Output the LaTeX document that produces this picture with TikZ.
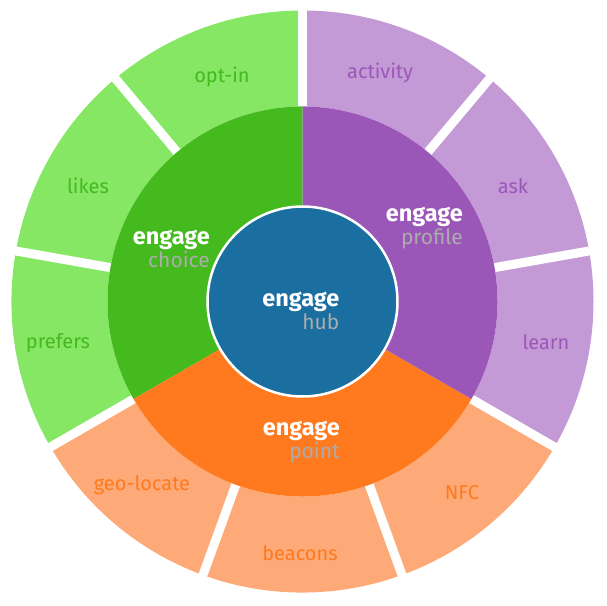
\documentclass[tikz,border=0pt]{standalone}
\usepackage{fontspec}
\setmainfont{Fira Sans}
\usepackage{tikz}

\definecolor{hubblue}{RGB}{26,111,160}
\definecolor{choicegreen}{RGB}{68,186,30}
\definecolor{choicelight}{RGB}{134,231,100}
\definecolor{profilepurple}{RGB}{155,87,184}
\definecolor{profilelight}{RGB}{195,154,214}
\definecolor{pointorange}{RGB}{255,122,30}
\definecolor{pointlight}{RGB}{253,170,120}
\definecolor{subgray}{RGB}{172,172,172}

\newcommand{\engagetxt}{{\fontsize{23.5}{23}\selectfont\bfseries\textcolor{white}{engage}}}

\tikzset{
  leaflbl/.style={font=\fontsize{20}{22}\selectfont, inner sep=0pt},
  ringlbl/.style={align=right, anchor=east, inner sep=0pt, font=\fontsize{21}{23}\selectfont},
}

\begin{document}
\begin{tikzpicture}[x=1pt,y=1pt]
\useasboundingbox (-302.5,-303.5) rectangle (304.5,301.5);
% outer ring
\fill[choicelight] (90:195) arc[start angle=90,end angle=210,radius=195] -- (210:291) arc[start angle=210,end angle=90,radius=291] -- cycle;
\fill[pointlight] (210:195) arc[start angle=210,end angle=330,radius=195] -- (330:291) arc[start angle=330,end angle=210,radius=291] -- cycle;
\fill[profilelight] (-30:195) arc[start angle=-30,end angle=90,radius=195] -- (90:291) arc[start angle=90,end angle=-30,radius=291] -- cycle;
\foreach \a in {10,50,...,330}
  \draw[white, line width=9pt] (\a:195) -- (\a:297);
%
% middle ring
\fill[choicegreen] (0,0) -- (90:195) arc[start angle=90,end angle=210,radius=195] -- cycle;
\fill[pointorange] (0,0) -- (210:195) arc[start angle=210,end angle=330,radius=195] -- cycle;
\fill[profilepurple] (0,0) -- (-30:195) arc[start angle=-30,end angle=90,radius=195] -- cycle;
%
% hub
\filldraw[fill=hubblue, draw=white, line width=2.5pt] (0,0) circle[radius=95];
%
\node[ringlbl] (hub) at (37,-9) {\engagetxt\\\textcolor{subgray}{hub}};
\node[ringlbl] (choice) at (-92.5,52.5) {\engagetxt\\\textcolor{subgray}{choice}};
\node[ringlbl] (profile) at (160.5,73.5) {\engagetxt\\\textcolor{subgray}{profile}};
\node[ringlbl] (point) at (37.5,-140.5) {\engagetxt\\\textcolor{subgray}{point}};
%
\node[leaflbl, text=choicegreen] (optin) at (-80.5,224.5) {opt-in};
\node[leaflbl, text=choicegreen] (likes) at (-214.5,115.5) {likes};
\node[leaflbl, text=choicegreen] (prefers) at (-244.5,-41.5) {prefers};
\node[leaflbl, text=profilepurple] (activity) at (77.5,228.5) {activity};
\node[leaflbl, text=profilepurple] (ask) at (210.5,115.5) {ask};
\node[leaflbl, text=profilepurple] (learn) at (243.5,-40.5) {learn};
\node[leaflbl, text=pointorange] (nfc) at (159.5,-191.5) {NFC};
\node[leaflbl, text=pointorange] (beacons) at (-2.5,-251.5) {beacons};
\node[leaflbl, text=pointorange] (geolocate) at (-160.5,-183.5) {geo-locate};
\end{tikzpicture}
\end{document}
